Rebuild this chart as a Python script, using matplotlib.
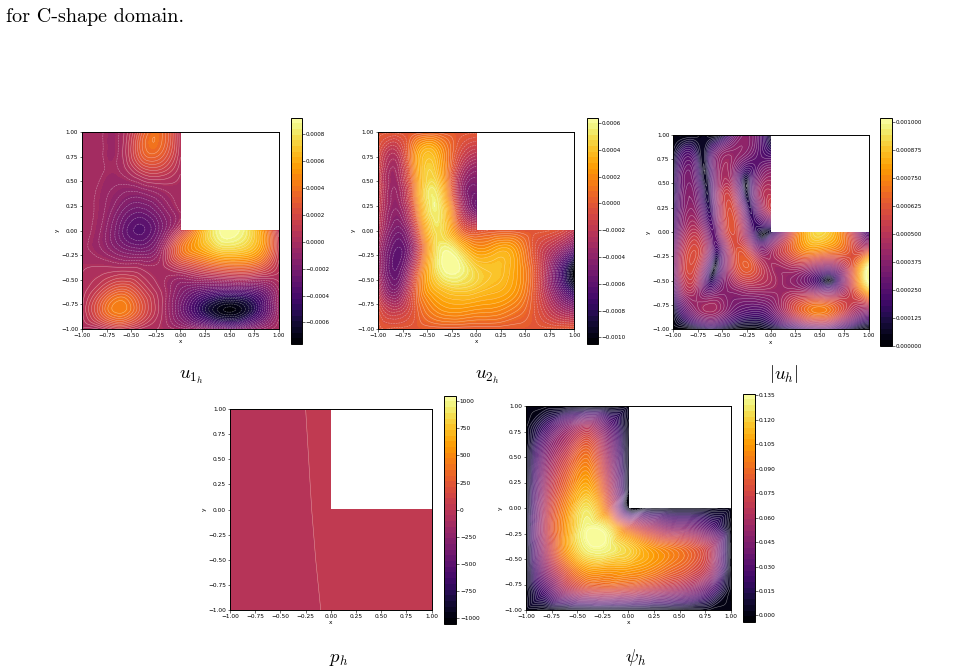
import numpy as np
import matplotlib
matplotlib.use("Agg")
import matplotlib.pyplot as plt
import matplotlib.tri as mtri
from matplotlib.ticker import FuncFormatter

W, H = 973, 670
plt.rcParams['mathtext.fontset'] = 'cm'
plt.rcParams['font.family'] = 'DejaVu Sans'

# nodes of the sampling grid, rows go from y=1 down to y=-1
grid_x = np.linspace(-1, 1, 11)
grid_y = np.linspace(1, -1, 11)
n = np.nan

# first velocity component (x 1e-4)
u1_vals = np.array([
    [-.3, -.3, -.2, 2.5, 3.6, .5, n, n, n, n, n],
    [-.3, -.3, -.1, 2.8, 3.2, .5, n, n, n, n, n],
    [-.3, -.3, -.3, 1.0, 1.3, .1, n, n, n, n, n],
    [-.2, -.5, -1.0, -1.0, -.5, -.1, n, n, n, n, n],
    [-.2, -.6, -1.8, -2.5, -1.5, -.3, n, n, n, n, n],
    [-.2, -.8, -2.5, -3.5, -2.0, 1.0, 5.5, 8.8, 8.8, 6.0, .5],
    [-.2, -.7, -1.6, -2.0, -.6, 3.5, 5.5, 7.0, 7.0, 5.5, 1.0],
    [0, .2, .3, .1, -.2, .5, 1.5, 2.2, 2.5, 2.0, .5],
    [.2, 1.5, 2.8, 1.5, 0, -1.5, -2.5, -3.0, -3.0, -2.5, -.3],
    [.3, 3.0, 4.5, 2.5, .2, -2.2, -5.0, -7.0, -7.0, -4.5, -.5],
    [0, .2, 1.0, .3, 0, -.5, -1.0, -2.0, -2.0, -1.0, 0],
]) * 1e-4

# second velocity component (x 1e-4)
u2_vals = np.array([
    [0, 0, 0, .2, 0, 0, n, n, n, n, n],
    [-.5, -2.0, 2.5, 3.0, -.3, -2.0, n, n, n, n, n],
    [-1.0, -3.0, 2.5, 3.8, -1.5, -4.0, n, n, n, n, n],
    [-1.0, -3.5, 2.0, 5.0, -2.0, -5.0, n, n, n, n, n],
    [-1.5, -4.0, 1.0, 5.5, -.5, -5.0, n, n, n, n, n],
    [-2.0, -5.0, -.8, 5.0, 1.5, -.5, 0, 0, 0, -.3, -2.0],
    [-3.0, -6.0, -2.0, 5.0, 5.0, 2.5, 3.0, 2.5, -.5, -3.0, -6.0],
    [-3.0, -5.8, -.5, 5.0, 6.2, 4.5, 4.0, 2.8, -.2, -5.0, -10.5],
    [-2.0, -4.5, .5, 3.5, 4.3, 4.0, 3.5, 2.5, -.3, -4.5, -8.5],
    [-.5, -2.0, .2, 2.0, 2.5, 2.2, 2.0, 1.2, -.2, -2.5, -4.0],
    [0, 0, 0, 0, 0, 0, 0, 0, 0, 0, 0],
]) * 1e-4

# stream function
psi_vals = np.array([
    [0, 0, 0, 0, 0, 0, n, n, n, n, n],
    [0, .022, .045, .06, .035, 0, n, n, n, n, n],
    [0, .04, .065, .085, .05, 0, n, n, n, n, n],
    [0, .05, .08, .098, .06, 0, n, n, n, n, n],
    [0, .058, .09, .11, .07, 0, n, n, n, n, n],
    [0, .065, .10, .125, .085, 0, 0, 0, 0, 0, 0],
    [0, .068, .105, .133, .125, .085, .065, .05, .045, .03, 0],
    [0, .062, .105, .13, .13, .12, .105, .095, .085, .065, 0],
    [0, .05, .085, .105, .105, .105, .10, .09, .08, .06, 0],
    [0, .03, .06, .075, .078, .075, .068, .06, .05, .03, 0],
    [0, 0, 0, 0, 0, 0, 0, 0, 0, 0, 0],
])

# pressure is nearly piecewise flat, a coarse grid is enough
p_grid_x = np.array([-1, -.5, 0, .5, 1])
p_grid_y = np.array([1, .5, 0, -.5, -1])
p_vals = np.array([
    [-45, -25, 25, n, n],
    [-45, -28, 22, n, n],
    [-45, -31, 19, 40, 45],
    [-45, -35, 15, 40, 45],
    [-45, -40, 10, 40, 45],
], dtype=float)

u1_ticks = [-.0006, -.0004, -.0002, 0, .0002, .0004, .0006, .0008]
u2_ticks = [-.0010, -.0008, -.0006, -.0004, -.0002, 0, .0002, .0004, .0006]
mag_ticks = [0, .000125, .00025, .000375, .0005, .000625, .00075, .000875, .001]
p_ticks = [-1000, -750, -500, -250, 0, 250, 500, 750, 1000]
psi_ticks = [0, .015, .03, .045, .06, .075, .09, .105, .12, .135]
axis_ticks = [-1, -.75, -.5, -.25, 0, .25, .5, .75, 1]


def make_mesh(xs, ys, vals):
    # triangles only over cells that lie inside the L shaped domain
    idx = -np.ones(vals.shape, dtype=int)
    inside = ~np.isnan(vals)
    idx[inside] = np.arange(inside.sum())
    xx, yy = np.meshgrid(xs, ys)
    tris = []
    for j in range(vals.shape[0] - 1):
        for i in range(vals.shape[1] - 1):
            a, b, c, d = idx[j, i], idx[j, i + 1], idx[j + 1, i], idx[j + 1, i + 1]
            if min(a, b, c, d) < 0:
                continue
            tris.append([a, c, b])
            tris.append([b, c, d])
    return mtri.Triangulation(xx[inside], yy[inside], np.array(tris)), inside


def refine(vals, kind='min_E'):
    tri, inside = make_mesh(grid_x, grid_y, vals)
    z = vals[inside]
    interp = mtri.CubicTriInterpolator(tri, z, kind=kind)
    return mtri.UniformTriRefiner(tri).refine_field(z, interp, subdiv=4)


def add_rect(x0, y0, x1, y1):
    return fig.add_axes([x0 / W, 1 - y1 / H, (x1 - x0) / W, (y1 - y0) / H])


def draw_panel(tri, z, vmin, vmax, ticks, decimals, ax_box, cb_box, n_lines, fs):
    ax = add_rect(*ax_box)
    levels = np.linspace(vmin, vmax, 41)
    # keep the field just inside the outer levels so no holes open up
    span = vmax - vmin
    z = np.clip(z, vmin + 1e-4 * span, vmax - 1e-4 * span)
    cf = ax.tricontourf(tri, z, levels=levels, cmap='inferno')
    ax.tricontour(tri, z, levels=np.linspace(vmin, vmax, n_lines), colors='white',
                  linewidths=0.35, alpha=0.5)
    ax.set_xlim(-1, 1)
    ax.set_ylim(-1, 1)
    ax.set_xticks(axis_ticks)
    ax.set_yticks(axis_ticks)
    ax.xaxis.set_major_formatter(FuncFormatter(lambda v, _: f"{v:.2f}".replace('-', '\u2212')))
    ax.yaxis.set_major_formatter(FuncFormatter(lambda v, _: f"{v:.2f}".replace('-', '\u2212')))
    ax.tick_params(labelsize=fs, length=1.8, width=0.4, pad=1)
    ax.set_xlabel('x', fontsize=fs, labelpad=1)
    ax.set_ylabel('y', fontsize=fs, labelpad=1)
    for s in ax.spines.values():
        s.set_linewidth(0.7)

    cax = add_rect(*cb_box)
    cb = fig.colorbar(cf, cax=cax, ticks=ticks)
    cb.ax.yaxis.set_major_formatter(FuncFormatter(lambda v, _: f"{v:.{decimals}f}".replace('-', '\u2212')))
    cb.ax.tick_params(labelsize=fs, length=1.8, width=0.4, pad=1)
    cb.outline.set_linewidth(0.7)


fig = plt.figure(figsize=(W / 100, H / 100), dpi=100)

fig.text(6 / W, 1 - 22 / H, 'for C-shape domain.', family='cmr10', fontsize=14.5, va='baseline')

u1_tri, u1_z = refine(u1_vals)
u2_tri, u2_z = refine(u2_vals)
psi_tri, psi_z = refine(psi_vals, kind='geom')
# speed comes from the two velocity components on the refined mesh
mag_z = np.hypot(u1_z, u2_z)

draw_panel(u1_tri, u1_z, -.00076, .00092, u1_ticks, 4,
           (82, 132.3, 278.7, 329), (291, 117.7, 302, 344), 45, 4.1)
draw_panel(u2_tri, u2_z, -.00105, .00064, u2_ticks, 4,
           (378, 132.3, 574.3, 329), (587, 117.7, 598, 344), 45, 4.1)
draw_panel(u1_tri, mag_z, 0, .00102, mag_ticks, 6,
           (673.3, 134.7, 868.7, 329.3), (880, 118, 892, 345.7), 45, 4.1)

p_tri, p_inside = make_mesh(p_grid_x, p_grid_y, p_vals)
draw_panel(p_tri, p_vals[p_inside], -1050, 1050, p_ticks, 0,
           (230, 409, 431.7, 610), (444, 395.7, 456, 623.7), 41, 4.2)
draw_panel(psi_tri, psi_z, -.004, .136, psi_ticks, 3,
           (526, 406, 730.7, 610), (743, 393.7, 755, 622), 60, 4.2)

labels = [
    (191, 377, r'$u_{1_h}$'),
    (487, 376, r'$u_{2_h}$'),
    (784, 374, r'$|u_h|$'),
    (339, 658, r'$p_h$'),
    (636, 657, r'$\psi_h$'),
]
for lx, ly, txt in labels:
    fig.text(lx / W, 1 - ly / H, txt, fontsize=13.5, ha='center', va='center')

fig.savefig('out.png', dpi=100)
